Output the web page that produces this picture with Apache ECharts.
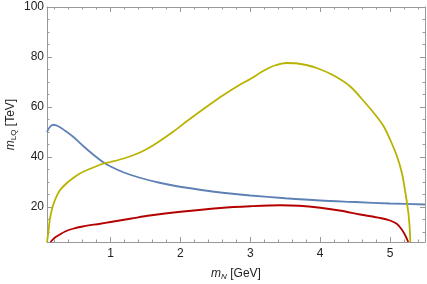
<!DOCTYPE html>
<html><head><meta charset="utf-8">
<script src="https://cdn.jsdelivr.net/npm/echarts@6/dist/echarts.min.js"></script>
<style>html,body{margin:0;padding:0;background:#fff}#c{width:427px;height:284px}</style>
</head><body><div id="c"></div>
<script>
const blue = [[0.09,50.0],[0.13,52.0],[0.18,52.9],[0.25,52.3],[0.35,50.5],[0.46,48.2],[0.6,44.6],[0.75,41.0],[0.89,38.0],[1.0,36.2],[1.2,33.7],[1.42,31.7],[1.7,29.7],[1.95,28.3],[2.3,26.8],[2.57,25.8],[3.0,24.6],[3.5,23.5],[4.0,22.6],[4.5,22.0],[5.0,21.4],[5.5,21.0]];
const yellow = [[0.09,6],[0.11,10],[0.13,14.9],[0.16,19],[0.2,22.5],[0.27,26.5],[0.37,29.5],[0.46,31.5],[0.56,33.4],[0.7,35.2],[0.89,37.3],[1.0,38.0],[1.2,39.5],[1.42,41.8],[1.6,44.5],[1.9,50.2],[2.1,54.5],[2.38,60.2],[2.6,64.5],[2.85,68.9],[3.0,71.2],[3.19,74.5],[3.35,76.6],[3.52,77.6],[3.65,77.5],[3.8,76.8],[3.95,75.6],[4.2,72.5],[4.43,68.2],[4.65,61.5],[4.8,56.5],[4.91,52.2],[5.0,47],[5.1,40.2],[5.17,33.5],[5.22,25.6],[5.26,18],[5.28,12],[5.29,6]];
const red = [[0.14,6],[0.2,7.7],[0.27,8.9],[0.35,10.2],[0.46,11.3],[0.6,12.2],[0.85,13.3],[1.0,14.0],[1.3,15.4],[1.56,16.6],[2.0,18.1],[2.57,19.6],[3.0,20.3],[3.43,20.7],[3.7,20.5],[4.0,19.7],[4.3,18.5],[4.57,17.0],[4.86,15.6],[5.0,14.6],[5.1,13.2],[5.17,10.9],[5.22,8.5],[5.26,6.0]];
const xMajor = [1,2,3,4,5];
const xMinor = [0.2,0.4,0.6,0.8,1.2,1.4,1.6,1.8,2.2,2.4,2.6,2.8,3.2,3.4,3.6,3.8,4.2,4.4,4.6,4.8,5.2,5.4];
const yMajor = [20,40,60,80,100];
const yMinor = [10,15,25,30,35,45,50,55,65,70,75,85,90,95];

const XMIN=0.09, XMAX=5.5, YMIN=6, YMAX=100;
const frame = '#999999';
const labelStyle = {color:'#222', fontFamily:'Liberation Sans, Arial', fontSize:12};
function xa(pos, ticks, len, labels, line){
  return {type:'value', position:pos, min:XMIN, max:XMAX,
    axisLine:{show:line, onZero:false, lineStyle:{color:frame, width:1}},
    axisTick:{show:true, inside:true, length:len, customValues:ticks, lineStyle:{color:frame}},
    axisLabel:{show:labels, customValues:xMajor, margin:6, ...labelStyle},
    splitLine:{show:false}};
}
function ya(pos, ticks, len, labels, line){
  return {type:'value', position:pos, min:YMIN, max:YMAX,
    axisLine:{show:line, onZero:false, lineStyle:{color:frame, width:1}},
    axisTick:{show:true, inside:true, length:len, customValues:ticks, lineStyle:{color:frame}},
    axisLabel:{show:labels, customValues:yMajor, margin:3, ...labelStyle},
    splitLine:{show:false}};
}
const x0 = xa('bottom', xMajor, 5, true, true);
x0.name = '{i|m}{s|N} [GeV]';
x0.nameLocation = 'middle';
x0.nameGap = 24;
x0.nameMoveOverlap = false;
x0.nameTextStyle = {color:'#222', fontFamily:'Liberation Sans, Arial', fontSize:12,
  rich:{i:{fontStyle:'italic', fontSize:12, fontFamily:'Liberation Sans, Arial', color:'#222'},
        s:{fontStyle:'italic', fontSize:8, fontFamily:'Liberation Sans, Arial', color:'#222', padding:[7,0,0,0]}}};
const y0 = ya('left', yMajor, 5, true, true);
y0.name = '{i|m}{s|LQ} [TeV]';
y0.nameLocation = 'middle';
y0.nameRotate = 90;
y0.nameGap = 29;
y0.nameMoveOverlap = false;
y0.nameTextStyle = {color:'#222', fontFamily:'Liberation Sans, Arial', fontSize:12,
  rich:{i:{fontStyle:'italic', fontSize:12, fontFamily:'Liberation Sans, Arial', color:'#222'},
        s:{fontSize:8, fontFamily:'Liberation Sans, Arial', color:'#222', padding:[7,0,0,0]}}};

const option = {
  animation:false,
  grid:{left:47, right:2, top:7, bottom:42, containLabel:false, outerBoundsMode:'none'},
  xAxis:[x0, xa('bottom', xMinor, 2.5, false, false), xa('top', xMajor, 5, false, true), xa('top', xMinor, 2.5, false, false)],
  yAxis:[y0, ya('left', yMinor, 2.5, false, false), ya('right', yMajor, 5, false, true), ya('right', yMinor, 2.5, false, false)],
  series:[
    {type:'line', data:blue, smooth:0.3, showSymbol:false, clip:true, lineStyle:{color:'#5E81B5', width:1.8}},
    {type:'line', data:red, smooth:0.3, showSymbol:false, clip:true, lineStyle:{color:'#B40000', width:1.8}},
    {type:'line', data:yellow, smooth:0.3, showSymbol:false, clip:true, lineStyle:{color:'#B8B300', width:1.8}}
  ]
};
echarts.init(document.getElementById('c')).setOption(option);
</script>
</body></html>
